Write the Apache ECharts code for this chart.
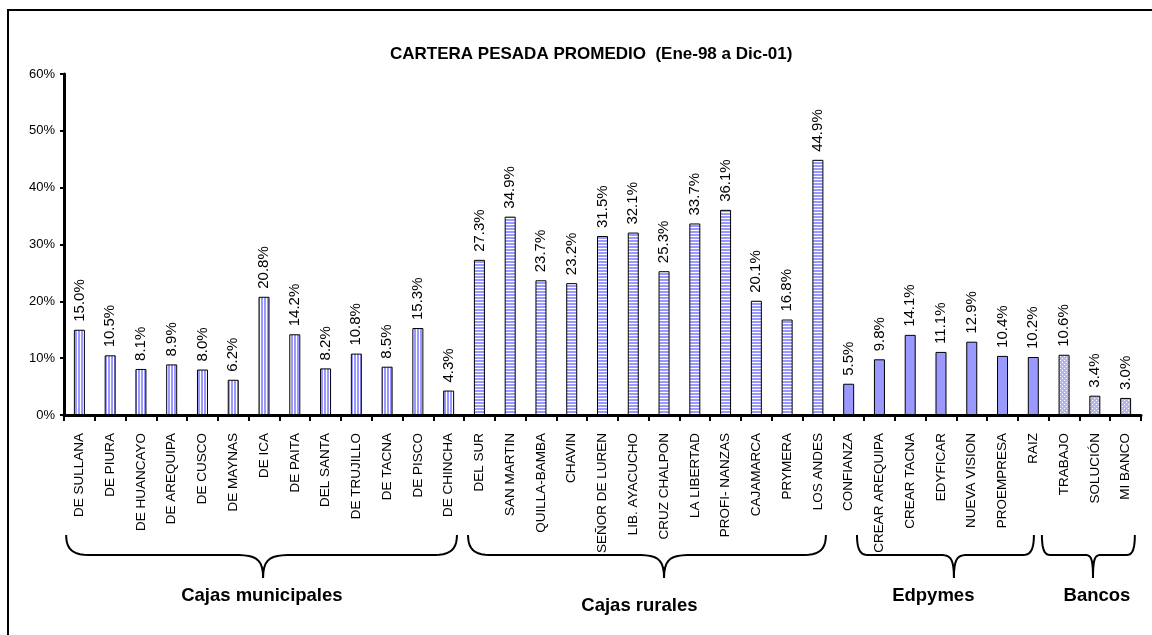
<!DOCTYPE html>
<html><head><meta charset="utf-8">
<script src="https://cdn.jsdelivr.net/npm/echarts@6/dist/echarts.min.js"></script>
<style>html,body{margin:0;padding:0;background:#fff}#c{width:1152px;height:635px}</style>
</head><body><div id="c"></div>
<script>
const chartTitle = 'CARTERA PESADA PROMEDIO  (Ene-98 a Dic-01)';

const munCats = ['DE SULLANA','DE PIURA','DE HUANCAYO','DE AREQUIPA','DE CUSCO','DE MAYNAS','DE ICA','DE PAITA','DEL SANTA','DE TRUJILLO','DE TACNA','DE PISCO','DE CHINCHA'];
const munVals = [15.0, 10.5, 8.1, 8.9, 8.0, 6.2, 20.8, 14.2, 8.2, 10.8, 8.5, 15.3, 4.3];

const rurCats = ['DEL SUR','SAN MARTIN','QUILLA-BAMBA','CHAVIN','SEÑOR DE LUREN','LIB. AYACUCHO','CRUZ CHALPON','LA LIBERTAD','PROFI- NANZAS','CAJAMARCA','PRYMERA','LOS ANDES'];
const rurVals = [27.3, 34.9, 23.7, 23.2, 31.5, 32.1, 25.3, 33.7, 36.1, 20.1, 16.8, 44.9];

const edpCats = ['CONFIANZA','CREAR AREQUIPA','CREAR TACNA','EDYFICAR','NUEVA VISION','PROEMPRESA','RAIZ'];
const edpVals = [5.5, 9.8, 14.1, 11.1, 12.9, 10.4, 10.2];

const banCats = ['TRABAJO','SOLUCIÓN','MI BANCO'];
const banVals = [10.6, 3.4, 3.0];

const groupNames = ['Cajas municipales', 'Cajas rurales', 'Edpymes', 'Bancos'];

const yTickValues = [0, 10, 20, 30, 40, 50, 60];

const FONT = "'Liberation Sans', Arial, sans-serif";
const BLUE = '#9999ff';

function makePattern(kind) {
  const c = document.createElement('canvas');
  const g = c.getContext('2d');
  if (kind === 'v') {
    c.width = 3; c.height = 4;
    g.fillStyle = '#ffffff'; g.fillRect(0, 0, 3, 4);
    g.fillStyle = BLUE; g.fillRect(0, 0, 2, 4);
  } else if (kind === 'h') {
    c.width = 4; c.height = 3;
    g.fillStyle = '#ffffff'; g.fillRect(0, 0, 4, 3);
    g.fillStyle = BLUE; g.fillRect(0, 0, 4, 2);
  } else {
    c.width = 4; c.height = 4;
    g.fillStyle = '#b4b4f2'; g.fillRect(0, 0, 4, 4);
    g.fillStyle = '#ffffff'; g.fillRect(0, 0, 1, 1); g.fillRect(2, 2, 1, 1);
  }
  return { image: c, repeat: 'repeat' };
}

const groups = [
  { cats: munCats, vals: munVals, fill: makePattern('v') },
  { cats: rurCats, vals: rurVals, fill: makePattern('h') },
  { cats: edpCats, vals: edpVals, fill: BLUE },
  { cats: banCats, vals: banVals, fill: makePattern('d') }
];

const categories = [];
const barData = [];
groups.forEach(gr => {
  gr.cats.forEach((c, i) => {
    categories.push(c);
    barData.push({ value: gr.vals[i], itemStyle: { color: gr.fill } });
  });
});

const chart = echarts.init(document.getElementById('c'), null, { renderer: 'canvas' });

chart.setOption({
  backgroundColor: '#ffffff',
  animation: false,
  title: {
    text: chartTitle, left: 385, top: 41,
    textStyle: { fontFamily: FONT, fontSize: 17, fontWeight: 'bold', color: '#000' }
  },
  grid: { left: 64, right: 11, top: 74, bottom: 220, containLabel: false, outerBoundsMode: 'none' },
  xAxis: {
    type: 'category',
    data: categories,
    boundaryGap: true,
    axisLine: { lineStyle: { color: '#000', width: 3 } },
    axisTick: { show: true, length: 6, lineStyle: { color: '#000', width: 2 } },
    axisLabel: {
      interval: 0, rotate: 90, margin: 18,
      fontFamily: FONT, fontSize: 13.5, color: '#000'
    },
    splitLine: { show: false }
  },
  yAxis: {
    type: 'value',
    min: yTickValues[0], max: yTickValues[yTickValues.length - 1], interval: 10,
    axisLine: { show: true, lineStyle: { color: '#000', width: 3 } },
    axisTick: { show: true, length: 4, lineStyle: { color: '#000', width: 2 } },
    axisLabel: { formatter: '{value}%', fontFamily: FONT, fontSize: 13, color: '#000', margin: 9 },
    splitLine: { show: false }
  },
  series: [{
    type: 'bar',
    data: barData,
    barWidth: 11,
    itemStyle: { borderColor: '#000', borderWidth: 1 },
    label: {
      show: true, position: 'top', rotate: 90, align: 'left', verticalAlign: 'middle',
      distance: 8, fontFamily: FONT, fontSize: 15, color: '#000',
      formatter: p => p.value.toFixed(1) + '%'
    }
  }]
});

// Annotation layout (brace spans / tips / label centres in category units)
const braceLayout = [
  { from: -0.43, to: 12.27, tip: 5.97, text: 5.93, textY: 596 },
  { from: 12.63, to: 24.26, tip: 19.0, text: 18.2, textY: 606 },
  { from: 25.27, to: 31.02, tip: 28.42, text: 27.75, textY: 596 },
  { from: 31.28, to: 34.30, tip: 32.94, text: 33.07, textY: 596 }
];

const x0 = chart.convertToPixel({ xAxisIndex: 0 }, categories[0]);
const x1 = chart.convertToPixel({ xAxisIndex: 0 }, categories[1]);
const step = x1 - x0;
const ux = u => x0 + u * step;

function bez(p0, p1, p2, p3, n, out) {
  for (let i = 1; i <= n; i++) {
    const t = i / n, mt = 1 - t;
    out.push([
      mt*mt*mt*p0[0] + 3*mt*mt*t*p1[0] + 3*mt*t*t*p2[0] + t*t*t*p3[0],
      mt*mt*mt*p0[1] + 3*mt*mt*t*p1[1] + 3*mt*t*t*p2[1] + t*t*t*p3[1]
    ]);
  }
}

function bracePoints(xl, xr, xm, yTop, yH, yP) {
  const w = xr - xl;
  const arm = Math.min(22, Math.max(8, w * 0.06));
  const mid = Math.min(30, Math.max(8, w * 0.08));
  const pts = [[xl, yTop]];
  bez([xl, yTop], [xl, yH - 6], [xl + arm * 0.3, yH], [xl + arm, yH], 10, pts);
  pts.push([xm - mid, yH]);
  bez([xm - mid, yH], [xm - mid * 0.3, yH], [xm, yH + 2], [xm, yP], 10, pts);
  bez([xm, yP], [xm, yH + 2], [xm + mid * 0.3, yH], [xm + mid, yH], 10, pts);
  pts.push([xr - arm, yH]);
  bez([xr - arm, yH], [xr - arm * 0.3, yH], [xr, yH - 6], [xr, yTop], 10, pts);
  return pts;
}

const graphics = [{
  type: 'rect', silent: true,
  shape: { x: 8, y: 10, width: 1160, height: 640 },
  style: { fill: null, stroke: '#000', lineWidth: 2 }
}];

braceLayout.forEach((b, i) => {
  graphics.push({
    type: 'polyline', silent: true,
    shape: { points: bracePoints(ux(b.from), ux(b.to), ux(b.tip), 535, 555, 578) },
    style: { stroke: '#000', lineWidth: 2, fill: null }
  });
  graphics.push({
    type: 'text', silent: true,
    x: ux(b.text), y: b.textY,
    style: {
      text: groupNames[i], fontFamily: FONT, fontSize: 18.5, fontWeight: 'bold', fill: '#000',
      align: 'center', verticalAlign: 'middle'
    }
  });
});

chart.setOption({ graphic: graphics });
</script>
</body></html>
